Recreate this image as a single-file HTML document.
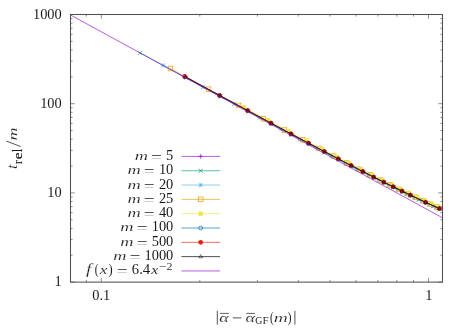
<!DOCTYPE html><html><head><meta charset="utf-8"><style>html,body{margin:0;padding:0;background:#fff}body{width:468px;height:328px;overflow:hidden;position:relative;font-family:"Liberation Serif",serif}</style></head><body><svg width="468" height="328" viewBox="0 0 468 328" style="position:absolute;left:0;top:0;will-change:transform" font-family="Liberation Serif" fill="#1a1a1a">
<rect x="0" y="0" width="468" height="328" fill="#fff"/>
<path d="M86.33 282.1v-2.1M86.33 14.5v2.1M101.30 282.1v-4.2M101.30 14.5v4.2M199.80 282.1v-2.1M199.80 14.5v2.1M257.41 282.1v-2.1M257.41 14.5v2.1M298.29 282.1v-2.1M298.29 14.5v2.1M330.00 282.1v-2.1M330.00 14.5v2.1M355.91 282.1v-2.1M355.91 14.5v2.1M377.82 282.1v-2.1M377.82 14.5v2.1M396.79 282.1v-2.1M396.79 14.5v2.1M413.53 282.1v-2.1M413.53 14.5v2.1M428.50 282.1v-4.2M428.50 14.5v4.2M70.5 282.10h4.2M442.5 282.10h-4.2M70.5 255.25h2.1M442.5 255.25h-2.1M70.5 239.54h2.1M442.5 239.54h-2.1M70.5 228.40h2.1M442.5 228.40h-2.1M70.5 219.75h2.1M442.5 219.75h-2.1M70.5 212.69h2.1M442.5 212.69h-2.1M70.5 206.72h2.1M442.5 206.72h-2.1M70.5 201.54h2.1M442.5 201.54h-2.1M70.5 196.98h2.1M442.5 196.98h-2.1M70.5 192.90h4.2M442.5 192.90h-4.2M70.5 166.05h2.1M442.5 166.05h-2.1M70.5 150.34h2.1M442.5 150.34h-2.1M70.5 139.20h2.1M442.5 139.20h-2.1M70.5 130.55h2.1M442.5 130.55h-2.1M70.5 123.49h2.1M442.5 123.49h-2.1M70.5 117.52h2.1M442.5 117.52h-2.1M70.5 112.34h2.1M442.5 112.34h-2.1M70.5 107.78h2.1M442.5 107.78h-2.1M70.5 103.70h4.2M442.5 103.70h-4.2M70.5 76.85h2.1M442.5 76.85h-2.1M70.5 61.14h2.1M442.5 61.14h-2.1M70.5 50.00h2.1M442.5 50.00h-2.1M70.5 41.35h2.1M442.5 41.35h-2.1M70.5 34.29h2.1M442.5 34.29h-2.1M70.5 28.32h2.1M442.5 28.32h-2.1M70.5 23.14h2.1M442.5 23.14h-2.1M70.5 18.58h2.1M442.5 18.58h-2.1" stroke="#505050" stroke-width="0.65" fill="none"/>
<clipPath id="c"><rect x="70.5" y="14.5" width="372.0" height="267.6"/></clipPath><g clip-path="url(#c)">
<path d="M184.83 76.60L219.66 95.49L247.61 110.59L270.96 123.15L291.01 133.88L308.57 143.22L324.20 151.48L338.28 158.85L351.09 165.50L362.84 171.53L373.70 177.05L383.78 182.11L393.19 186.78L402.02 191.09L410.33 195.10L418.19 198.82L425.63 202.29L432.70 205.53L439.44 208.56" stroke="#9400D3" stroke-width="0.65" fill="none"/>
<path d="M182.43 76.60h4.8M184.83 74.20v4.8" stroke="#9400D3" stroke-width="0.7" fill="none"/>
<path d="M217.26 95.49h4.8M219.66 93.09v4.8" stroke="#9400D3" stroke-width="0.7" fill="none"/>
<path d="M245.21 110.59h4.8M247.61 108.19v4.8" stroke="#9400D3" stroke-width="0.7" fill="none"/>
<path d="M268.56 123.15h4.8M270.96 120.75v4.8" stroke="#9400D3" stroke-width="0.7" fill="none"/>
<path d="M288.61 133.88h4.8M291.01 131.48v4.8" stroke="#9400D3" stroke-width="0.7" fill="none"/>
<path d="M306.17 143.22h4.8M308.57 140.82v4.8" stroke="#9400D3" stroke-width="0.7" fill="none"/>
<path d="M321.80 151.48h4.8M324.20 149.08v4.8" stroke="#9400D3" stroke-width="0.7" fill="none"/>
<path d="M335.88 158.85h4.8M338.28 156.45v4.8" stroke="#9400D3" stroke-width="0.7" fill="none"/>
<path d="M348.69 165.50h4.8M351.09 163.10v4.8" stroke="#9400D3" stroke-width="0.7" fill="none"/>
<path d="M360.44 171.53h4.8M362.84 169.13v4.8" stroke="#9400D3" stroke-width="0.7" fill="none"/>
<path d="M371.30 177.05h4.8M373.70 174.65v4.8" stroke="#9400D3" stroke-width="0.7" fill="none"/>
<path d="M381.38 182.11h4.8M383.78 179.71v4.8" stroke="#9400D3" stroke-width="0.7" fill="none"/>
<path d="M390.79 186.78h4.8M393.19 184.38v4.8" stroke="#9400D3" stroke-width="0.7" fill="none"/>
<path d="M399.62 191.09h4.8M402.02 188.69v4.8" stroke="#9400D3" stroke-width="0.7" fill="none"/>
<path d="M407.93 195.10h4.8M410.33 192.70v4.8" stroke="#9400D3" stroke-width="0.7" fill="none"/>
<path d="M415.79 198.82h4.8M418.19 196.42v4.8" stroke="#9400D3" stroke-width="0.7" fill="none"/>
<path d="M423.23 202.29h4.8M425.63 199.89v4.8" stroke="#9400D3" stroke-width="0.7" fill="none"/>
<path d="M430.30 205.53h4.8M432.70 203.13v4.8" stroke="#9400D3" stroke-width="0.7" fill="none"/>
<path d="M437.04 208.56h4.8M439.44 206.16v4.8" stroke="#9400D3" stroke-width="0.7" fill="none"/>
<path d="M140.10 52.88L185.93 77.79L220.52 96.54L248.32 111.56L271.56 124.06L291.53 134.75L309.03 144.05L324.62 152.28L338.66 159.63L351.44 166.26L363.16 172.28L373.99 177.78L384.05 182.83L393.45 187.49L402.26 191.79L410.56 195.79L418.40 199.51L425.83 202.97L432.89 206.20L439.62 209.23" stroke="#009E73" stroke-width="0.65" fill="none"/>
<path d="M138.00 50.78l4.2 4.2M138.00 54.98l4.2 -4.2" stroke="#009E73" stroke-width="0.7" fill="none"/>
<path d="M183.83 75.69l4.2 4.2M183.83 79.89l4.2 -4.2" stroke="#009E73" stroke-width="0.7" fill="none"/>
<path d="M218.42 94.44l4.2 4.2M218.42 98.64l4.2 -4.2" stroke="#009E73" stroke-width="0.7" fill="none"/>
<path d="M246.22 109.46l4.2 4.2M246.22 113.66l4.2 -4.2" stroke="#009E73" stroke-width="0.7" fill="none"/>
<path d="M269.46 121.96l4.2 4.2M269.46 126.16l4.2 -4.2" stroke="#009E73" stroke-width="0.7" fill="none"/>
<path d="M289.43 132.65l4.2 4.2M289.43 136.85l4.2 -4.2" stroke="#009E73" stroke-width="0.7" fill="none"/>
<path d="M306.93 141.95l4.2 4.2M306.93 146.15l4.2 -4.2" stroke="#009E73" stroke-width="0.7" fill="none"/>
<path d="M322.52 150.18l4.2 4.2M322.52 154.38l4.2 -4.2" stroke="#009E73" stroke-width="0.7" fill="none"/>
<path d="M336.56 157.53l4.2 4.2M336.56 161.73l4.2 -4.2" stroke="#009E73" stroke-width="0.7" fill="none"/>
<path d="M349.34 164.16l4.2 4.2M349.34 168.36l4.2 -4.2" stroke="#009E73" stroke-width="0.7" fill="none"/>
<path d="M361.06 170.18l4.2 4.2M361.06 174.38l4.2 -4.2" stroke="#009E73" stroke-width="0.7" fill="none"/>
<path d="M371.89 175.68l4.2 4.2M371.89 179.88l4.2 -4.2" stroke="#009E73" stroke-width="0.7" fill="none"/>
<path d="M381.95 180.73l4.2 4.2M381.95 184.93l4.2 -4.2" stroke="#009E73" stroke-width="0.7" fill="none"/>
<path d="M391.35 185.39l4.2 4.2M391.35 189.59l4.2 -4.2" stroke="#009E73" stroke-width="0.7" fill="none"/>
<path d="M400.16 189.69l4.2 4.2M400.16 193.89l4.2 -4.2" stroke="#009E73" stroke-width="0.7" fill="none"/>
<path d="M408.46 193.69l4.2 4.2M408.46 197.89l4.2 -4.2" stroke="#009E73" stroke-width="0.7" fill="none"/>
<path d="M416.30 197.41l4.2 4.2M416.30 201.61l4.2 -4.2" stroke="#009E73" stroke-width="0.7" fill="none"/>
<path d="M423.73 200.87l4.2 4.2M423.73 205.07l4.2 -4.2" stroke="#009E73" stroke-width="0.7" fill="none"/>
<path d="M430.79 204.10l4.2 4.2M430.79 208.30l4.2 -4.2" stroke="#009E73" stroke-width="0.7" fill="none"/>
<path d="M437.52 207.13l4.2 4.2M437.52 211.33l4.2 -4.2" stroke="#009E73" stroke-width="0.7" fill="none"/>
<path d="M163.21 65.45L203.03 87.07L234.10 103.88L259.58 117.62L281.17 129.21L299.92 139.21L316.48 147.99L331.30 155.79L344.73 162.79L357.00 169.12L368.29 174.89L378.75 180.18L388.49 185.04L397.61 189.53L406.17 193.68L414.25 197.55L421.90 201.14L429.15 204.50L436.05 207.63" stroke="#56B4E9" stroke-width="0.65" fill="none"/>
<path d="M161.11 63.35l4.2 4.2M161.11 67.55l4.2 -4.2M161.11 65.45h4.2M163.21 63.35v4.2" stroke="#56B4E9" stroke-width="0.7" fill="none"/>
<path d="M200.93 84.97l4.2 4.2M200.93 89.17l4.2 -4.2M200.93 87.07h4.2M203.03 84.97v4.2" stroke="#56B4E9" stroke-width="0.7" fill="none"/>
<path d="M232.00 101.78l4.2 4.2M232.00 105.98l4.2 -4.2M232.00 103.88h4.2M234.10 101.78v4.2" stroke="#56B4E9" stroke-width="0.7" fill="none"/>
<path d="M257.48 115.52l4.2 4.2M257.48 119.72l4.2 -4.2M257.48 117.62h4.2M259.58 115.52v4.2" stroke="#56B4E9" stroke-width="0.7" fill="none"/>
<path d="M279.07 127.11l4.2 4.2M279.07 131.31l4.2 -4.2M279.07 129.21h4.2M281.17 127.11v4.2" stroke="#56B4E9" stroke-width="0.7" fill="none"/>
<path d="M297.82 137.11l4.2 4.2M297.82 141.31l4.2 -4.2M297.82 139.21h4.2M299.92 137.11v4.2" stroke="#56B4E9" stroke-width="0.7" fill="none"/>
<path d="M314.38 145.89l4.2 4.2M314.38 150.09l4.2 -4.2M314.38 147.99h4.2M316.48 145.89v4.2" stroke="#56B4E9" stroke-width="0.7" fill="none"/>
<path d="M329.20 153.69l4.2 4.2M329.20 157.89l4.2 -4.2M329.20 155.79h4.2M331.30 153.69v4.2" stroke="#56B4E9" stroke-width="0.7" fill="none"/>
<path d="M342.63 160.69l4.2 4.2M342.63 164.89l4.2 -4.2M342.63 162.79h4.2M344.73 160.69v4.2" stroke="#56B4E9" stroke-width="0.7" fill="none"/>
<path d="M354.90 167.02l4.2 4.2M354.90 171.22l4.2 -4.2M354.90 169.12h4.2M357.00 167.02v4.2" stroke="#56B4E9" stroke-width="0.7" fill="none"/>
<path d="M366.19 172.79l4.2 4.2M366.19 176.99l4.2 -4.2M366.19 174.89h4.2M368.29 172.79v4.2" stroke="#56B4E9" stroke-width="0.7" fill="none"/>
<path d="M376.65 178.08l4.2 4.2M376.65 182.28l4.2 -4.2M376.65 180.18h4.2M378.75 178.08v4.2" stroke="#56B4E9" stroke-width="0.7" fill="none"/>
<path d="M386.39 182.94l4.2 4.2M386.39 187.14l4.2 -4.2M386.39 185.04h4.2M388.49 182.94v4.2" stroke="#56B4E9" stroke-width="0.7" fill="none"/>
<path d="M395.51 187.43l4.2 4.2M395.51 191.63l4.2 -4.2M395.51 189.53h4.2M397.61 187.43v4.2" stroke="#56B4E9" stroke-width="0.7" fill="none"/>
<path d="M404.07 191.58l4.2 4.2M404.07 195.78l4.2 -4.2M404.07 193.68h4.2M406.17 191.58v4.2" stroke="#56B4E9" stroke-width="0.7" fill="none"/>
<path d="M412.15 195.45l4.2 4.2M412.15 199.65l4.2 -4.2M412.15 197.55h4.2M414.25 195.45v4.2" stroke="#56B4E9" stroke-width="0.7" fill="none"/>
<path d="M419.80 199.04l4.2 4.2M419.80 203.24l4.2 -4.2M419.80 201.14h4.2M421.90 199.04v4.2" stroke="#56B4E9" stroke-width="0.7" fill="none"/>
<path d="M427.05 202.40l4.2 4.2M427.05 206.60l4.2 -4.2M427.05 204.50h4.2M429.15 202.40v4.2" stroke="#56B4E9" stroke-width="0.7" fill="none"/>
<path d="M433.95 205.53l4.2 4.2M433.95 209.73l4.2 -4.2M433.95 207.63h4.2M436.05 205.53v4.2" stroke="#56B4E9" stroke-width="0.7" fill="none"/>
<path d="M170.47 68.53L208.55 89.20L238.55 105.43L263.31 118.77L284.38 130.07L302.74 139.86L318.99 148.46L333.57 156.12L346.79 163.00L358.89 169.24L370.03 174.93L380.37 180.14L390.01 184.93L399.03 189.37L407.51 193.47L415.52 197.29L423.10 200.85L430.29 204.16L437.14 207.27" stroke="#E69F00" stroke-width="0.65" fill="none"/>
<rect x="168.17" y="66.23" width="4.6" height="4.6" stroke="#E69F00" stroke-width="0.7" fill="none"/>
<rect x="206.25" y="86.90" width="4.6" height="4.6" stroke="#E69F00" stroke-width="0.7" fill="none"/>
<rect x="236.25" y="103.13" width="4.6" height="4.6" stroke="#E69F00" stroke-width="0.7" fill="none"/>
<rect x="261.01" y="116.47" width="4.6" height="4.6" stroke="#E69F00" stroke-width="0.7" fill="none"/>
<rect x="282.08" y="127.77" width="4.6" height="4.6" stroke="#E69F00" stroke-width="0.7" fill="none"/>
<rect x="300.44" y="137.56" width="4.6" height="4.6" stroke="#E69F00" stroke-width="0.7" fill="none"/>
<rect x="316.69" y="146.16" width="4.6" height="4.6" stroke="#E69F00" stroke-width="0.7" fill="none"/>
<rect x="331.27" y="153.82" width="4.6" height="4.6" stroke="#E69F00" stroke-width="0.7" fill="none"/>
<rect x="344.49" y="160.70" width="4.6" height="4.6" stroke="#E69F00" stroke-width="0.7" fill="none"/>
<rect x="356.59" y="166.94" width="4.6" height="4.6" stroke="#E69F00" stroke-width="0.7" fill="none"/>
<rect x="367.73" y="172.63" width="4.6" height="4.6" stroke="#E69F00" stroke-width="0.7" fill="none"/>
<rect x="378.07" y="177.84" width="4.6" height="4.6" stroke="#E69F00" stroke-width="0.7" fill="none"/>
<rect x="387.71" y="182.63" width="4.6" height="4.6" stroke="#E69F00" stroke-width="0.7" fill="none"/>
<rect x="396.73" y="187.07" width="4.6" height="4.6" stroke="#E69F00" stroke-width="0.7" fill="none"/>
<rect x="405.21" y="191.17" width="4.6" height="4.6" stroke="#E69F00" stroke-width="0.7" fill="none"/>
<rect x="413.22" y="194.99" width="4.6" height="4.6" stroke="#E69F00" stroke-width="0.7" fill="none"/>
<rect x="420.80" y="198.55" width="4.6" height="4.6" stroke="#E69F00" stroke-width="0.7" fill="none"/>
<rect x="427.99" y="201.86" width="4.6" height="4.6" stroke="#E69F00" stroke-width="0.7" fill="none"/>
<rect x="434.84" y="204.97" width="4.6" height="4.6" stroke="#E69F00" stroke-width="0.7" fill="none"/>
<path d="M243.86 107.31L267.78 120.19L288.25 131.15L306.14 140.67L322.02 149.07L336.31 156.56L349.29 163.31L361.19 169.43L372.16 175.02L382.35 180.14L391.86 184.86L400.77 189.22L409.15 193.27L417.07 197.03L424.57 200.54L431.69 203.81L438.47 206.88" stroke="#F0E442" stroke-width="0.65" fill="none"/>
<rect x="241.76" y="105.21" width="4.2" height="4.2" fill="#F0E442"/>
<rect x="265.68" y="118.09" width="4.2" height="4.2" fill="#F0E442"/>
<rect x="286.15" y="129.05" width="4.2" height="4.2" fill="#F0E442"/>
<rect x="304.04" y="138.57" width="4.2" height="4.2" fill="#F0E442"/>
<rect x="319.92" y="146.97" width="4.2" height="4.2" fill="#F0E442"/>
<rect x="334.21" y="154.46" width="4.2" height="4.2" fill="#F0E442"/>
<rect x="347.19" y="161.21" width="4.2" height="4.2" fill="#F0E442"/>
<rect x="359.09" y="167.33" width="4.2" height="4.2" fill="#F0E442"/>
<rect x="370.06" y="172.92" width="4.2" height="4.2" fill="#F0E442"/>
<rect x="380.25" y="178.04" width="4.2" height="4.2" fill="#F0E442"/>
<rect x="389.76" y="182.76" width="4.2" height="4.2" fill="#F0E442"/>
<rect x="398.67" y="187.12" width="4.2" height="4.2" fill="#F0E442"/>
<rect x="407.05" y="191.17" width="4.2" height="4.2" fill="#F0E442"/>
<rect x="414.97" y="194.93" width="4.2" height="4.2" fill="#F0E442"/>
<rect x="422.47" y="198.44" width="4.2" height="4.2" fill="#F0E442"/>
<rect x="429.59" y="201.71" width="4.2" height="4.2" fill="#F0E442"/>
<rect x="436.37" y="204.78" width="4.2" height="4.2" fill="#F0E442"/>
<path d="M184.59 76.47L219.47 95.39L247.46 110.51L270.83 123.08L290.89 133.82L308.47 143.17L324.11 151.43L338.20 158.81L351.02 165.46L362.78 171.50L373.63 177.02L383.72 182.08L393.14 186.75L401.97 191.07L410.29 195.07L425.59 202.27L439.40 208.55" stroke="#0072B2" stroke-width="0.65" fill="none"/>
<circle cx="184.59" cy="76.47" r="1.9" stroke="#0072B2" stroke-width="0.7" fill="none"/>
<circle cx="219.47" cy="95.39" r="1.9" stroke="#0072B2" stroke-width="0.7" fill="none"/>
<circle cx="247.46" cy="110.51" r="1.9" stroke="#0072B2" stroke-width="0.7" fill="none"/>
<circle cx="270.83" cy="123.08" r="1.9" stroke="#0072B2" stroke-width="0.7" fill="none"/>
<circle cx="290.89" cy="133.82" r="1.9" stroke="#0072B2" stroke-width="0.7" fill="none"/>
<circle cx="308.47" cy="143.17" r="1.9" stroke="#0072B2" stroke-width="0.7" fill="none"/>
<circle cx="324.11" cy="151.43" r="1.9" stroke="#0072B2" stroke-width="0.7" fill="none"/>
<circle cx="338.20" cy="158.81" r="1.9" stroke="#0072B2" stroke-width="0.7" fill="none"/>
<circle cx="351.02" cy="165.46" r="1.9" stroke="#0072B2" stroke-width="0.7" fill="none"/>
<circle cx="362.78" cy="171.50" r="1.9" stroke="#0072B2" stroke-width="0.7" fill="none"/>
<circle cx="373.63" cy="177.02" r="1.9" stroke="#0072B2" stroke-width="0.7" fill="none"/>
<circle cx="383.72" cy="182.08" r="1.9" stroke="#0072B2" stroke-width="0.7" fill="none"/>
<circle cx="393.14" cy="186.75" r="1.9" stroke="#0072B2" stroke-width="0.7" fill="none"/>
<circle cx="401.97" cy="191.07" r="1.9" stroke="#0072B2" stroke-width="0.7" fill="none"/>
<circle cx="410.29" cy="195.07" r="1.9" stroke="#0072B2" stroke-width="0.7" fill="none"/>
<circle cx="425.59" cy="202.27" r="1.9" stroke="#0072B2" stroke-width="0.7" fill="none"/>
<circle cx="439.40" cy="208.55" r="1.9" stroke="#0072B2" stroke-width="0.7" fill="none"/>
<path d="M184.83 76.60L219.66 95.49L247.61 110.59L270.96 123.15L291.01 133.88L308.57 143.22L324.20 151.48L338.28 158.85L351.09 165.50L362.84 171.53L373.70 177.05L383.78 182.11L393.19 186.78L402.02 191.09L410.33 195.10L425.63 202.29L439.44 208.56" stroke="#E51E10" stroke-width="0.65" fill="none"/>
<circle cx="184.83" cy="76.60" r="2.35" fill="#E51E10"/>
<circle cx="219.66" cy="95.49" r="2.35" fill="#E51E10"/>
<circle cx="247.61" cy="110.59" r="2.35" fill="#E51E10"/>
<circle cx="270.96" cy="123.15" r="2.35" fill="#E51E10"/>
<circle cx="291.01" cy="133.88" r="2.35" fill="#E51E10"/>
<circle cx="308.57" cy="143.22" r="2.35" fill="#E51E10"/>
<circle cx="324.20" cy="151.48" r="2.35" fill="#E51E10"/>
<circle cx="338.28" cy="158.85" r="2.35" fill="#E51E10"/>
<circle cx="351.09" cy="165.50" r="2.35" fill="#E51E10"/>
<circle cx="362.84" cy="171.53" r="2.35" fill="#E51E10"/>
<circle cx="373.70" cy="177.05" r="2.35" fill="#E51E10"/>
<circle cx="383.78" cy="182.11" r="2.35" fill="#E51E10"/>
<circle cx="393.19" cy="186.78" r="2.35" fill="#E51E10"/>
<circle cx="402.02" cy="191.09" r="2.35" fill="#E51E10"/>
<circle cx="410.33" cy="195.10" r="2.35" fill="#E51E10"/>
<circle cx="425.63" cy="202.29" r="2.35" fill="#E51E10"/>
<circle cx="439.44" cy="208.56" r="2.35" fill="#E51E10"/>
<path d="M185.22 76.82L219.97 95.66L247.86 110.73L271.17 123.27L291.19 133.98L308.74 143.31L324.35 151.55L338.42 158.92L351.22 165.56L362.96 171.59L373.80 177.10L383.88 182.16L393.28 186.82L402.11 191.13L410.42 195.13L425.70 202.32L439.50 208.59" stroke="#000000" stroke-width="0.7" fill="none"/>
<path d="M185.22 74.78L187.09 78.01L183.35 78.01Z" stroke="#000000" stroke-width="0.5" fill="none"/>
<path d="M219.97 93.62L221.84 96.85L218.10 96.85Z" stroke="#000000" stroke-width="0.5" fill="none"/>
<path d="M247.86 108.69L249.73 111.92L245.99 111.92Z" stroke="#000000" stroke-width="0.5" fill="none"/>
<path d="M271.17 121.23L273.04 124.46L269.30 124.46Z" stroke="#000000" stroke-width="0.5" fill="none"/>
<path d="M291.19 131.94L293.06 135.17L289.32 135.17Z" stroke="#000000" stroke-width="0.5" fill="none"/>
<path d="M308.74 141.27L310.61 144.50L306.87 144.50Z" stroke="#000000" stroke-width="0.5" fill="none"/>
<path d="M324.35 149.51L326.22 152.74L322.48 152.74Z" stroke="#000000" stroke-width="0.5" fill="none"/>
<path d="M338.42 156.88L340.29 160.11L336.55 160.11Z" stroke="#000000" stroke-width="0.5" fill="none"/>
<path d="M351.22 163.52L353.09 166.75L349.35 166.75Z" stroke="#000000" stroke-width="0.5" fill="none"/>
<path d="M362.96 169.55L364.83 172.78L361.09 172.78Z" stroke="#000000" stroke-width="0.5" fill="none"/>
<path d="M373.80 175.06L375.67 178.29L371.93 178.29Z" stroke="#000000" stroke-width="0.5" fill="none"/>
<path d="M383.88 180.12L385.75 183.35L382.01 183.35Z" stroke="#000000" stroke-width="0.5" fill="none"/>
<path d="M393.28 184.78L395.15 188.01L391.41 188.01Z" stroke="#000000" stroke-width="0.5" fill="none"/>
<path d="M402.11 189.09L403.98 192.32L400.24 192.32Z" stroke="#000000" stroke-width="0.5" fill="none"/>
<path d="M410.42 193.09L412.29 196.32L408.55 196.32Z" stroke="#000000" stroke-width="0.5" fill="none"/>
<path d="M425.70 200.28L427.57 203.51L423.83 203.51Z" stroke="#000000" stroke-width="0.5" fill="none"/>
<path d="M439.50 206.55L441.37 209.78L437.63 209.78Z" stroke="#000000" stroke-width="0.5" fill="none"/>
<path d="M70.5 15.00L442.5 217.82" stroke="#9400D3" stroke-width="0.65" fill="none"/>
</g>
<rect x="70.5" y="14.5" width="372.0" height="267.6" fill="none" stroke="#505050" stroke-width="1.05"/>
<path d="M181.5 156.40H220.1" stroke="#9400D3" stroke-width="0.65" fill="none"/>
<path d="M198.30 156.40h4.8M200.70 154.00v4.8" stroke="#9400D3" stroke-width="0.7" fill="none"/>
<text x="173.3" y="159.95" text-anchor="end" font-size="14.4">5</text>
<text transform="translate(151.06,161.95) scale(1.350,1.0)" font-size="14.4" stroke="#fff" stroke-width="0.11" paint-order="fill stroke">=</text>
<text transform="translate(134.74,159.95) scale(1.272,0.93)" font-size="14.4" font-style="italic" stroke="#fff" stroke-width="0.14" paint-order="fill stroke">m</text>
<path d="M181.5 170.72H220.1" stroke="#009E73" stroke-width="0.65" fill="none"/>
<path d="M198.60 168.62l4.2 4.2M198.60 172.82l4.2 -4.2" stroke="#009E73" stroke-width="0.7" fill="none"/>
<text x="173.3" y="174.25" text-anchor="end" font-size="14.4">10</text>
<text transform="translate(143.86,176.25) scale(1.350,1.0)" font-size="14.4" stroke="#fff" stroke-width="0.11" paint-order="fill stroke">=</text>
<text transform="translate(127.54,174.25) scale(1.272,0.93)" font-size="14.4" font-style="italic" stroke="#fff" stroke-width="0.14" paint-order="fill stroke">m</text>
<path d="M181.5 185.04H220.1" stroke="#56B4E9" stroke-width="0.65" fill="none"/>
<path d="M198.60 182.94l4.2 4.2M198.60 187.14l4.2 -4.2M198.60 185.04h4.2M200.70 182.94v4.2" stroke="#56B4E9" stroke-width="0.7" fill="none"/>
<text x="173.3" y="188.55" text-anchor="end" font-size="14.4">20</text>
<text transform="translate(143.86,190.55) scale(1.350,1.0)" font-size="14.4" stroke="#fff" stroke-width="0.11" paint-order="fill stroke">=</text>
<text transform="translate(127.54,188.55) scale(1.272,0.93)" font-size="14.4" font-style="italic" stroke="#fff" stroke-width="0.14" paint-order="fill stroke">m</text>
<path d="M181.5 199.36H220.1" stroke="#E69F00" stroke-width="0.65" fill="none"/>
<rect x="198.40" y="197.06" width="4.6" height="4.6" stroke="#E69F00" stroke-width="0.7" fill="none"/>
<text x="173.3" y="202.85" text-anchor="end" font-size="14.4">25</text>
<text transform="translate(143.86,204.85) scale(1.350,1.0)" font-size="14.4" stroke="#fff" stroke-width="0.11" paint-order="fill stroke">=</text>
<text transform="translate(127.54,202.85) scale(1.272,0.93)" font-size="14.4" font-style="italic" stroke="#fff" stroke-width="0.14" paint-order="fill stroke">m</text>
<path d="M181.5 213.68H220.1" stroke="#F0E442" stroke-width="0.65" fill="none"/>
<rect x="198.60" y="211.58" width="4.2" height="4.2" fill="#F0E442"/>
<text x="173.3" y="217.15" text-anchor="end" font-size="14.4">40</text>
<text transform="translate(143.86,219.15) scale(1.350,1.0)" font-size="14.4" stroke="#fff" stroke-width="0.11" paint-order="fill stroke">=</text>
<text transform="translate(127.54,217.15) scale(1.272,0.93)" font-size="14.4" font-style="italic" stroke="#fff" stroke-width="0.14" paint-order="fill stroke">m</text>
<path d="M181.5 228.00H220.1" stroke="#0072B2" stroke-width="0.65" fill="none"/>
<circle cx="200.70" cy="228.00" r="1.9" stroke="#0072B2" stroke-width="0.7" fill="none"/>
<text x="173.3" y="231.45" text-anchor="end" font-size="14.4">100</text>
<text transform="translate(136.66,233.45) scale(1.350,1.0)" font-size="14.4" stroke="#fff" stroke-width="0.11" paint-order="fill stroke">=</text>
<text transform="translate(120.34,231.45) scale(1.272,0.93)" font-size="14.4" font-style="italic" stroke="#fff" stroke-width="0.14" paint-order="fill stroke">m</text>
<path d="M181.5 242.32H220.1" stroke="#E51E10" stroke-width="0.65" fill="none"/>
<circle cx="200.70" cy="242.32" r="2.35" fill="#E51E10"/>
<text x="173.3" y="245.75" text-anchor="end" font-size="14.4">500</text>
<text transform="translate(136.66,247.75) scale(1.350,1.0)" font-size="14.4" stroke="#fff" stroke-width="0.11" paint-order="fill stroke">=</text>
<text transform="translate(120.34,245.75) scale(1.272,0.93)" font-size="14.4" font-style="italic" stroke="#fff" stroke-width="0.14" paint-order="fill stroke">m</text>
<path d="M181.5 256.64H220.1" stroke="#000000" stroke-width="0.7" fill="none"/>
<path d="M200.70 254.60L202.57 257.83L198.83 257.83Z" stroke="#000000" stroke-width="0.5" fill="none"/>
<text x="173.3" y="260.05" text-anchor="end" font-size="14.4">1000</text>
<text transform="translate(129.46,262.05) scale(1.350,1.0)" font-size="14.4" stroke="#fff" stroke-width="0.11" paint-order="fill stroke">=</text>
<text transform="translate(113.14,260.05) scale(1.272,0.93)" font-size="14.4" font-style="italic" stroke="#fff" stroke-width="0.14" paint-order="fill stroke">m</text>
<path d="M181.5 270.96H220.1" stroke="#9400D3" stroke-width="0.65" fill="none"/>
<text transform="translate(86.10,274.40) scale(1.350,1.0)" font-size="14.4" font-style="italic" stroke="#fff" stroke-width="0.17" paint-order="fill stroke">f</text>
<text transform="translate(94.70,274.40) scale(0.784,1.0)" font-size="14.4">(</text>
<text transform="translate(99.71,274.40) scale(1.207,0.93)" font-size="14.4" font-style="italic" stroke="#fff" stroke-width="0.12" paint-order="fill stroke">x</text>
<text transform="translate(108.40,274.40) scale(0.865,1.0)" font-size="14.4">)</text>
<text transform="translate(116.81,276.40) scale(1.350,1.0)" font-size="14.4" stroke="#fff" stroke-width="0.11" paint-order="fill stroke">=</text>
<text transform="translate(131.78,274.40) scale(1.008,1.0)" font-size="14.4">6</text>
<text transform="translate(139.35,274.40) scale(0.999,1.0)" font-size="14.4">.</text>
<text transform="translate(142.81,274.40) scale(1.031,1.0)" font-size="14.4">4</text>
<text transform="translate(151.29,274.40) scale(1.076,0.93)" font-size="14.4" font-style="italic" stroke="#fff" stroke-width="0.08" paint-order="fill stroke">x</text>
<text transform="translate(159.06,270.00) scale(1.350,1.0)" font-size="10" stroke="#fff" stroke-width="0.11" paint-order="fill stroke">−</text>
<text transform="translate(166.57,269.80) scale(1.197,1.0)" font-size="10" stroke="#fff" stroke-width="0.06" paint-order="fill stroke">2</text>
<text x="61.75" y="18.50" text-anchor="end" font-size="14.4">1000</text>
<text x="61.75" y="107.70" text-anchor="end" font-size="14.4">100</text>
<text x="61.75" y="196.90" text-anchor="end" font-size="14.4">10</text>
<text x="61.75" y="286.10" text-anchor="end" font-size="14.4">1</text>
<text x="101.30" y="300.1" text-anchor="middle" font-size="14.4">0.1</text>
<text x="428.80" y="300.1" text-anchor="middle" font-size="14.4">1</text>
<g transform="translate(16.9,168.3) rotate(-90)" stroke="#1a1a1a" stroke-width="0.18">
<text transform="translate(-0.59,0.00) scale(1.094,1.0)" font-size="14.4" font-style="italic" stroke="#fff" stroke-width="0.09" paint-order="fill stroke">t</text>
<text transform="translate(4.27,5.20) scale(0.799,0.93)" font-size="14.4">r</text>
<text transform="translate(9.01,5.20) scale(1.051,0.93)" font-size="14.4">e</text>
<text transform="translate(16.28,5.20) scale(0.759,1.0)" font-size="14.4">l</text>
<path d="M21.8 3.7L27.3 -10.7" stroke="#1a1a1a" stroke-width="0.75" fill="none"/>
<text transform="translate(27.85,0.00) scale(1.251,0.93)" font-size="14.4" font-style="italic" stroke="#fff" stroke-width="0.14" paint-order="fill stroke">m</text>
</g>
<path d="M217.3 310.9V324.6M294.9 310.9V324.6" stroke="#1a1a1a" stroke-width="0.75"/>
<text transform="translate(219.16,321.60) scale(1.249,0.93)" font-size="14.4" font-style="italic" stroke="#fff" stroke-width="0.13" paint-order="fill stroke">α</text>
<text transform="translate(245.46,321.60) scale(1.262,0.93)" font-size="14.4" font-style="italic" stroke="#fff" stroke-width="0.14" paint-order="fill stroke">α</text>
<path d="M220.0 313.4H228.9M246.3 313.4H254.9" stroke="#1a1a1a" stroke-width="0.7"/>
<path d="M232.8 317.9H241.4" stroke="#1a1a1a" stroke-width="0.75"/>
<text transform="translate(255.20,324.30) scale(1.026,1.0)" font-size="9.6">G</text>
<text transform="translate(262.48,324.30) scale(1.145,1.0)" font-size="9.6" stroke="#fff" stroke-width="0.04" paint-order="fill stroke">F</text>
<text transform="translate(270.02,321.60) scale(0.757,1.0)" font-size="14.4">(</text>
<text transform="translate(273.70,321.60) scale(1.348,0.93)" font-size="14.4" font-style="italic" stroke="#fff" stroke-width="0.16" paint-order="fill stroke">m</text>
<text transform="translate(287.84,321.60) scale(0.784,1.0)" font-size="14.4">)</text>
</svg></body></html>
